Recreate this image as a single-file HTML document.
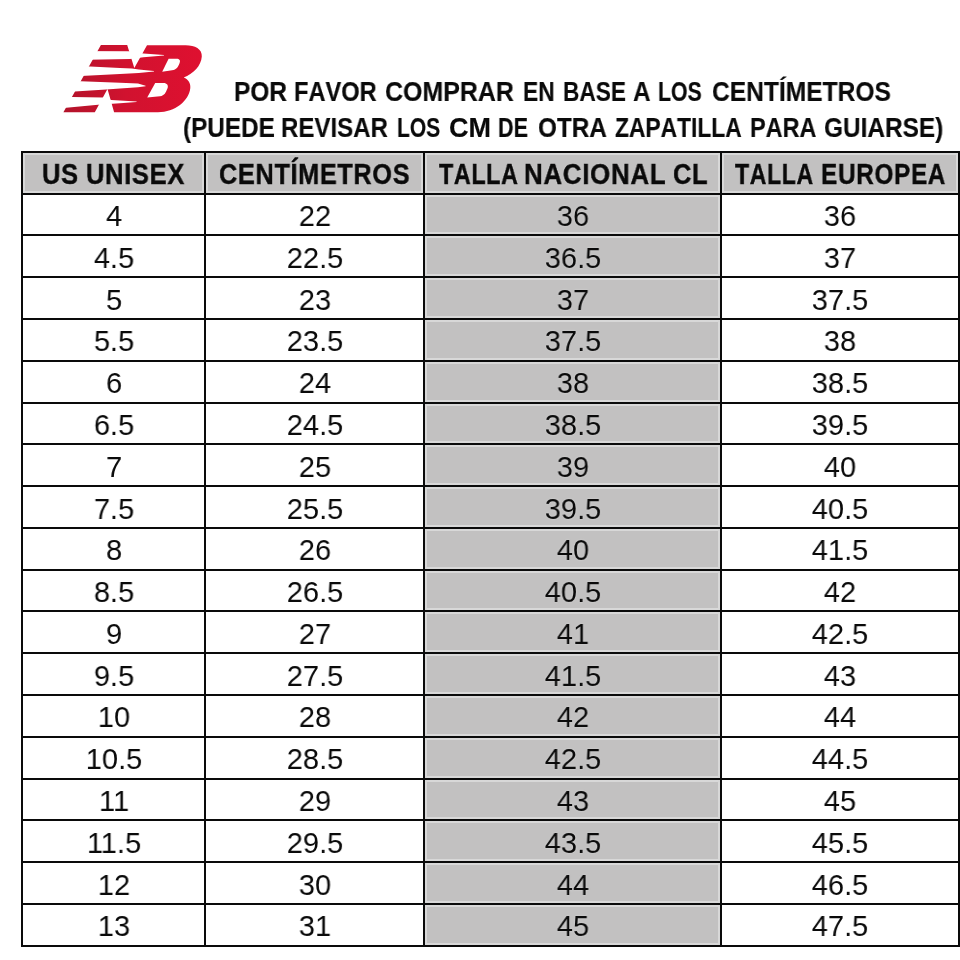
<!DOCTYPE html>
<html><head><meta charset="utf-8"><title>Tabla de tallas</title>
<style>
html,body{margin:0;padding:0;background:#fff;}
body{width:960px;height:960px;position:relative;overflow:hidden;font-family:"Liberation Sans",sans-serif;color:#0a0a0a;}
.l{position:absolute;background:#0a0a0a;}
.g{position:absolute;background:#c2c1c1;}
.u{position:absolute;background:#d8d8d8;}
.t{position:absolute;will-change:transform;white-space:nowrap;line-height:40px;height:40px;transform-origin:50% 50%;text-align:center;}
.b{font-size:30px;}
.bg{text-shadow:0 0 2px #dadada;}
.h{font-size:29px;font-weight:bold;letter-spacing:0.8px;-webkit-text-stroke:0.45px #0a0a0a;font-kerning:none;word-spacing:-1.5px;text-shadow:0 0 2px #dedede;}
.ti{font-size:27px;font-weight:bold;font-kerning:none;-webkit-text-stroke:0.15px #0a0a0a;}
</style></head><body>

<div class="u" style="left:23.00px;top:153.00px;width:181.00px;height:40.00px"></div>
<div class="u" style="left:206.00px;top:153.00px;width:217.00px;height:40.00px"></div>
<div class="u" style="left:425.00px;top:153.00px;width:295.00px;height:40.00px"></div>
<div class="u" style="left:722.00px;top:153.00px;width:236.00px;height:40.00px"></div>
<div class="u" style="left:425.00px;top:195.00px;width:295.00px;height:39.00px"></div>
<div class="u" style="left:425.00px;top:236.00px;width:295.00px;height:40.00px"></div>
<div class="u" style="left:425.00px;top:278.00px;width:295.00px;height:40.00px"></div>
<div class="u" style="left:425.00px;top:320.00px;width:295.00px;height:40.00px"></div>
<div class="u" style="left:425.00px;top:362.00px;width:295.00px;height:40.00px"></div>
<div class="u" style="left:425.00px;top:404.00px;width:295.00px;height:39.00px"></div>
<div class="u" style="left:425.00px;top:445.00px;width:295.00px;height:40.00px"></div>
<div class="u" style="left:425.00px;top:487.00px;width:295.00px;height:40.00px"></div>
<div class="u" style="left:425.00px;top:529.00px;width:295.00px;height:40.00px"></div>
<div class="u" style="left:425.00px;top:571.00px;width:295.00px;height:39.00px"></div>
<div class="u" style="left:425.00px;top:612.00px;width:295.00px;height:40.00px"></div>
<div class="u" style="left:425.00px;top:654.00px;width:295.00px;height:40.00px"></div>
<div class="u" style="left:425.00px;top:696.00px;width:295.00px;height:40.00px"></div>
<div class="u" style="left:425.00px;top:738.00px;width:295.00px;height:40.00px"></div>
<div class="u" style="left:425.00px;top:780.00px;width:295.00px;height:39.00px"></div>
<div class="u" style="left:425.00px;top:821.00px;width:295.00px;height:40.00px"></div>
<div class="u" style="left:425.00px;top:863.00px;width:295.00px;height:40.00px"></div>
<div class="u" style="left:425.00px;top:905.00px;width:295.00px;height:40.00px"></div>
<div class="g" style="left:25.00px;top:155.00px;width:177.00px;height:36.00px"></div>
<div class="g" style="left:208.00px;top:155.00px;width:213.00px;height:36.00px"></div>
<div class="g" style="left:427.00px;top:155.00px;width:291.00px;height:36.00px"></div>
<div class="g" style="left:724.00px;top:155.00px;width:232.00px;height:36.00px"></div>
<div class="g" style="left:427.00px;top:197.00px;width:291.00px;height:35.00px"></div>
<div class="g" style="left:427.00px;top:238.00px;width:291.00px;height:36.00px"></div>
<div class="g" style="left:427.00px;top:280.00px;width:291.00px;height:36.00px"></div>
<div class="g" style="left:427.00px;top:322.00px;width:291.00px;height:36.00px"></div>
<div class="g" style="left:427.00px;top:364.00px;width:291.00px;height:36.00px"></div>
<div class="g" style="left:427.00px;top:406.00px;width:291.00px;height:35.00px"></div>
<div class="g" style="left:427.00px;top:447.00px;width:291.00px;height:36.00px"></div>
<div class="g" style="left:427.00px;top:489.00px;width:291.00px;height:36.00px"></div>
<div class="g" style="left:427.00px;top:531.00px;width:291.00px;height:36.00px"></div>
<div class="g" style="left:427.00px;top:573.00px;width:291.00px;height:35.00px"></div>
<div class="g" style="left:427.00px;top:614.00px;width:291.00px;height:36.00px"></div>
<div class="g" style="left:427.00px;top:656.00px;width:291.00px;height:36.00px"></div>
<div class="g" style="left:427.00px;top:698.00px;width:291.00px;height:36.00px"></div>
<div class="g" style="left:427.00px;top:740.00px;width:291.00px;height:36.00px"></div>
<div class="g" style="left:427.00px;top:782.00px;width:291.00px;height:35.00px"></div>
<div class="g" style="left:427.00px;top:823.00px;width:291.00px;height:36.00px"></div>
<div class="g" style="left:427.00px;top:865.00px;width:291.00px;height:36.00px"></div>
<div class="g" style="left:427.00px;top:907.00px;width:291.00px;height:36.00px"></div>
<div class="l" style="left:21.00px;top:151.00px;width:2.00px;height:796.00px"></div>
<div class="l" style="left:204.00px;top:151.00px;width:2.00px;height:796.00px"></div>
<div class="l" style="left:423.00px;top:151.00px;width:2.00px;height:796.00px"></div>
<div class="l" style="left:720.00px;top:151.00px;width:2.00px;height:796.00px"></div>
<div class="l" style="left:958.00px;top:151.00px;width:2.00px;height:796.00px"></div>
<div class="l" style="left:21.00px;top:151.00px;width:939.00px;height:2.00px"></div>
<div class="l" style="left:21.00px;top:193.00px;width:939.00px;height:2.00px"></div>
<div class="l" style="left:21.00px;top:234.00px;width:939.00px;height:2.00px"></div>
<div class="l" style="left:21.00px;top:276.00px;width:939.00px;height:2.00px"></div>
<div class="l" style="left:21.00px;top:318.00px;width:939.00px;height:2.00px"></div>
<div class="l" style="left:21.00px;top:360.00px;width:939.00px;height:2.00px"></div>
<div class="l" style="left:21.00px;top:402.00px;width:939.00px;height:2.00px"></div>
<div class="l" style="left:21.00px;top:443.00px;width:939.00px;height:2.00px"></div>
<div class="l" style="left:21.00px;top:485.00px;width:939.00px;height:2.00px"></div>
<div class="l" style="left:21.00px;top:527.00px;width:939.00px;height:2.00px"></div>
<div class="l" style="left:21.00px;top:569.00px;width:939.00px;height:2.00px"></div>
<div class="l" style="left:21.00px;top:610.00px;width:939.00px;height:2.00px"></div>
<div class="l" style="left:21.00px;top:652.00px;width:939.00px;height:2.00px"></div>
<div class="l" style="left:21.00px;top:694.00px;width:939.00px;height:2.00px"></div>
<div class="l" style="left:21.00px;top:736.00px;width:939.00px;height:2.00px"></div>
<div class="l" style="left:21.00px;top:778.00px;width:939.00px;height:2.00px"></div>
<div class="l" style="left:21.00px;top:819.00px;width:939.00px;height:2.00px"></div>
<div class="l" style="left:21.00px;top:861.00px;width:939.00px;height:2.00px"></div>
<div class="l" style="left:21.00px;top:903.00px;width:939.00px;height:2.00px"></div>
<div class="l" style="left:21.00px;top:945.00px;width:939.00px;height:2.00px"></div>
<div class="t h" style="left:41.54px;top:154px;text-align:left;transform-origin:0 50%;transform:scaleX(0.8789)">US</div>
<div class="t h" style="left:85.75px;top:154px;text-align:left;transform-origin:0 50%;transform:scaleX(0.8773)">UNISEX</div>
<div class="t h" style="left:219.13px;top:154px;text-align:left;transform-origin:0 50%;transform:scaleX(0.8698)">CENTÍMETROS</div>
<div class="t h" style="left:439.40px;top:154px;text-align:left;transform-origin:0 50%;transform:scaleX(0.8031)">TALLA</div>
<div class="t h" style="left:524.32px;top:154px;text-align:left;transform-origin:0 50%;transform:scaleX(0.8923)">NACIONAL</div>
<div class="t h" style="left:673.32px;top:154px;text-align:left;transform-origin:0 50%;transform:scaleX(0.8763)">CL</div>
<div class="t h" style="left:735.30px;top:154px;text-align:left;transform-origin:0 50%;transform:scaleX(0.7959)">TALLA</div>
<div class="t h" style="left:820.82px;top:154px;text-align:left;transform-origin:0 50%;transform:scaleX(0.839)">EUROPEA</div>
<div class="t b" style="left:113.50px;top:196px;width:400px;margin-left:-200px;transform:scaleX(0.9665)">4</div>
<div class="t b" style="left:314.50px;top:196px;width:400px;margin-left:-200px;transform:scaleX(0.9665)">22</div>
<div class="t b bg" style="left:572.50px;top:196px;width:400px;margin-left:-200px;transform:scaleX(0.9665)">36</div>
<div class="t b" style="left:840.00px;top:196px;width:400px;margin-left:-200px;transform:scaleX(0.9665)">36</div>
<div class="t b" style="left:113.50px;top:238px;width:400px;margin-left:-200px;transform:scaleX(0.9665)">4.5</div>
<div class="t b" style="left:314.50px;top:238px;width:400px;margin-left:-200px;transform:scaleX(0.9665)">22.5</div>
<div class="t b bg" style="left:572.50px;top:238px;width:400px;margin-left:-200px;transform:scaleX(0.9665)">36.5</div>
<div class="t b" style="left:840.00px;top:238px;width:400px;margin-left:-200px;transform:scaleX(0.9665)">37</div>
<div class="t b" style="left:113.50px;top:280px;width:400px;margin-left:-200px;transform:scaleX(0.9665)">5</div>
<div class="t b" style="left:314.50px;top:280px;width:400px;margin-left:-200px;transform:scaleX(0.9665)">23</div>
<div class="t b bg" style="left:572.50px;top:280px;width:400px;margin-left:-200px;transform:scaleX(0.9665)">37</div>
<div class="t b" style="left:840.00px;top:280px;width:400px;margin-left:-200px;transform:scaleX(0.9665)">37.5</div>
<div class="t b" style="left:113.50px;top:321px;width:400px;margin-left:-200px;transform:scaleX(0.9665)">5.5</div>
<div class="t b" style="left:314.50px;top:321px;width:400px;margin-left:-200px;transform:scaleX(0.9665)">23.5</div>
<div class="t b bg" style="left:572.50px;top:321px;width:400px;margin-left:-200px;transform:scaleX(0.9665)">37.5</div>
<div class="t b" style="left:840.00px;top:321px;width:400px;margin-left:-200px;transform:scaleX(0.9665)">38</div>
<div class="t b" style="left:113.50px;top:363px;width:400px;margin-left:-200px;transform:scaleX(0.9665)">6</div>
<div class="t b" style="left:314.50px;top:363px;width:400px;margin-left:-200px;transform:scaleX(0.9665)">24</div>
<div class="t b bg" style="left:572.50px;top:363px;width:400px;margin-left:-200px;transform:scaleX(0.9665)">38</div>
<div class="t b" style="left:840.00px;top:363px;width:400px;margin-left:-200px;transform:scaleX(0.9665)">38.5</div>
<div class="t b" style="left:113.50px;top:405px;width:400px;margin-left:-200px;transform:scaleX(0.9665)">6.5</div>
<div class="t b" style="left:314.50px;top:405px;width:400px;margin-left:-200px;transform:scaleX(0.9665)">24.5</div>
<div class="t b bg" style="left:572.50px;top:405px;width:400px;margin-left:-200px;transform:scaleX(0.9665)">38.5</div>
<div class="t b" style="left:840.00px;top:405px;width:400px;margin-left:-200px;transform:scaleX(0.9665)">39.5</div>
<div class="t b" style="left:113.50px;top:447px;width:400px;margin-left:-200px;transform:scaleX(0.9665)">7</div>
<div class="t b" style="left:314.50px;top:447px;width:400px;margin-left:-200px;transform:scaleX(0.9665)">25</div>
<div class="t b bg" style="left:572.50px;top:447px;width:400px;margin-left:-200px;transform:scaleX(0.9665)">39</div>
<div class="t b" style="left:840.00px;top:447px;width:400px;margin-left:-200px;transform:scaleX(0.9665)">40</div>
<div class="t b" style="left:113.50px;top:489px;width:400px;margin-left:-200px;transform:scaleX(0.9665)">7.5</div>
<div class="t b" style="left:314.50px;top:489px;width:400px;margin-left:-200px;transform:scaleX(0.9665)">25.5</div>
<div class="t b bg" style="left:572.50px;top:489px;width:400px;margin-left:-200px;transform:scaleX(0.9665)">39.5</div>
<div class="t b" style="left:840.00px;top:489px;width:400px;margin-left:-200px;transform:scaleX(0.9665)">40.5</div>
<div class="t b" style="left:113.50px;top:530px;width:400px;margin-left:-200px;transform:scaleX(0.9665)">8</div>
<div class="t b" style="left:314.50px;top:530px;width:400px;margin-left:-200px;transform:scaleX(0.9665)">26</div>
<div class="t b bg" style="left:572.50px;top:530px;width:400px;margin-left:-200px;transform:scaleX(0.9665)">40</div>
<div class="t b" style="left:840.00px;top:530px;width:400px;margin-left:-200px;transform:scaleX(0.9665)">41.5</div>
<div class="t b" style="left:113.50px;top:572px;width:400px;margin-left:-200px;transform:scaleX(0.9665)">8.5</div>
<div class="t b" style="left:314.50px;top:572px;width:400px;margin-left:-200px;transform:scaleX(0.9665)">26.5</div>
<div class="t b bg" style="left:572.50px;top:572px;width:400px;margin-left:-200px;transform:scaleX(0.9665)">40.5</div>
<div class="t b" style="left:840.00px;top:572px;width:400px;margin-left:-200px;transform:scaleX(0.9665)">42</div>
<div class="t b" style="left:113.50px;top:614px;width:400px;margin-left:-200px;transform:scaleX(0.9665)">9</div>
<div class="t b" style="left:314.50px;top:614px;width:400px;margin-left:-200px;transform:scaleX(0.9665)">27</div>
<div class="t b bg" style="left:572.50px;top:614px;width:400px;margin-left:-200px;transform:scaleX(0.9665)">41</div>
<div class="t b" style="left:840.00px;top:614px;width:400px;margin-left:-200px;transform:scaleX(0.9665)">42.5</div>
<div class="t b" style="left:113.50px;top:656px;width:400px;margin-left:-200px;transform:scaleX(0.9665)">9.5</div>
<div class="t b" style="left:314.50px;top:656px;width:400px;margin-left:-200px;transform:scaleX(0.9665)">27.5</div>
<div class="t b bg" style="left:572.50px;top:656px;width:400px;margin-left:-200px;transform:scaleX(0.9665)">41.5</div>
<div class="t b" style="left:840.00px;top:656px;width:400px;margin-left:-200px;transform:scaleX(0.9665)">43</div>
<div class="t b" style="left:113.50px;top:697px;width:400px;margin-left:-200px;transform:scaleX(0.9665)">10</div>
<div class="t b" style="left:314.50px;top:697px;width:400px;margin-left:-200px;transform:scaleX(0.9665)">28</div>
<div class="t b bg" style="left:572.50px;top:697px;width:400px;margin-left:-200px;transform:scaleX(0.9665)">42</div>
<div class="t b" style="left:840.00px;top:697px;width:400px;margin-left:-200px;transform:scaleX(0.9665)">44</div>
<div class="t b" style="left:113.50px;top:739px;width:400px;margin-left:-200px;transform:scaleX(0.9665)">10.5</div>
<div class="t b" style="left:314.50px;top:739px;width:400px;margin-left:-200px;transform:scaleX(0.9665)">28.5</div>
<div class="t b bg" style="left:572.50px;top:739px;width:400px;margin-left:-200px;transform:scaleX(0.9665)">42.5</div>
<div class="t b" style="left:840.00px;top:739px;width:400px;margin-left:-200px;transform:scaleX(0.9665)">44.5</div>
<div class="t b" style="left:113.50px;top:781px;width:400px;margin-left:-200px;transform:scaleX(0.9665)">11</div>
<div class="t b" style="left:314.50px;top:781px;width:400px;margin-left:-200px;transform:scaleX(0.9665)">29</div>
<div class="t b bg" style="left:572.50px;top:781px;width:400px;margin-left:-200px;transform:scaleX(0.9665)">43</div>
<div class="t b" style="left:840.00px;top:781px;width:400px;margin-left:-200px;transform:scaleX(0.9665)">45</div>
<div class="t b" style="left:113.50px;top:823px;width:400px;margin-left:-200px;transform:scaleX(0.9665)">11.5</div>
<div class="t b" style="left:314.50px;top:823px;width:400px;margin-left:-200px;transform:scaleX(0.9665)">29.5</div>
<div class="t b bg" style="left:572.50px;top:823px;width:400px;margin-left:-200px;transform:scaleX(0.9665)">43.5</div>
<div class="t b" style="left:840.00px;top:823px;width:400px;margin-left:-200px;transform:scaleX(0.9665)">45.5</div>
<div class="t b" style="left:113.50px;top:865px;width:400px;margin-left:-200px;transform:scaleX(0.9665)">12</div>
<div class="t b" style="left:314.50px;top:865px;width:400px;margin-left:-200px;transform:scaleX(0.9665)">30</div>
<div class="t b bg" style="left:572.50px;top:865px;width:400px;margin-left:-200px;transform:scaleX(0.9665)">44</div>
<div class="t b" style="left:840.00px;top:865px;width:400px;margin-left:-200px;transform:scaleX(0.9665)">46.5</div>
<div class="t b" style="left:113.50px;top:906px;width:400px;margin-left:-200px;transform:scaleX(0.9665)">13</div>
<div class="t b" style="left:314.50px;top:906px;width:400px;margin-left:-200px;transform:scaleX(0.9665)">31</div>
<div class="t b bg" style="left:572.50px;top:906px;width:400px;margin-left:-200px;transform:scaleX(0.9665)">45</div>
<div class="t b" style="left:840.00px;top:906px;width:400px;margin-left:-200px;transform:scaleX(0.9665)">47.5</div>
<div class="t ti" style="left:234.44px;top:72px;text-align:left;transform-origin:0 50%;transform:scaleX(0.9062)">POR</div>
<div class="t ti" style="left:294.00px;top:72px;text-align:left;transform-origin:0 50%;transform:scaleX(0.875)">FAVOR</div>
<div class="t ti" style="left:385.33px;top:72px;text-align:left;transform-origin:0 50%;transform:scaleX(0.9239)">COMPRAR</div>
<div class="t ti" style="left:523.31px;top:72px;text-align:left;transform-origin:0 50%;transform:scaleX(0.8456)">EN</div>
<div class="t ti" style="left:562.82px;top:72px;text-align:left;transform-origin:0 50%;transform:scaleX(0.8403)">BASE</div>
<div class="t ti" style="left:632.85px;top:72px;text-align:left;transform-origin:0 50%;transform:scaleX(0.9028)">A</div>
<div class="t ti" style="left:658.42px;top:72px;text-align:left;transform-origin:0 50%;transform:scaleX(0.7877)">LOS</div>
<div class="t ti" style="left:711.59px;top:72px;text-align:left;transform-origin:0 50%;transform:scaleX(0.9103)">CENTÍMETROS</div>
<div class="t ti" style="left:182.85px;top:108px;text-align:left;transform-origin:0 50%;transform:scaleX(0.9)">(PUEDE</div>
<div class="t ti" style="left:281.47px;top:108px;text-align:left;transform-origin:0 50%;transform:scaleX(0.891)">REVISAR</div>
<div class="t ti" style="left:397.19px;top:108px;text-align:left;transform-origin:0 50%;transform:scaleX(0.7783)">LOS</div>
<div class="t ti" style="left:449.01px;top:108px;text-align:left;transform-origin:0 50%;transform:scaleX(0.9936)">CM</div>
<div class="t ti" style="left:497.90px;top:108px;text-align:left;transform-origin:0 50%;transform:scaleX(0.8)">DE</div>
<div class="t ti" style="left:537.85px;top:108px;text-align:left;transform-origin:0 50%;transform:scaleX(0.9)">OTRA</div>
<div class="t ti" style="left:615.41px;top:108px;text-align:left;transform-origin:0 50%;transform:scaleX(0.8446)">ZAPATILLA</div>
<div class="t ti" style="left:750.26px;top:108px;text-align:left;transform-origin:0 50%;transform:scaleX(0.8682)">PARA</div>
<div class="t ti" style="left:823.60px;top:108px;text-align:left;transform-origin:0 50%;transform:scaleX(0.9038)">GUIARSE)</div>
<svg style="position:absolute;left:0;top:0" width="260" height="150" viewBox="0 0 260 150">
<defs><linearGradient id="rg" x1="63" y1="0" x2="203" y2="0" gradientUnits="userSpaceOnUse">
<stop offset="0" stop-color="#b2132a"/><stop offset="0.45" stop-color="#d1122f"/><stop offset="1" stop-color="#df1030"/></linearGradient></defs>
<path fill="url(#rg)" d="M100.9 45 L127.2 45 L134.3 68.0 L147.0 45.2 L185.6 45.2 C195 45.2 202.3 49 201.8 56.5 C201.2 66 193 74 183.7 77.6 C188.5 79.5 190.8 83.5 190.3 88 C189 101 175 112.2 158 112.2 L114.1 112.2 L107.5 89.1 L94.8 112.2 L63.4 112.2 Z"/>
<g fill="#fff">
<path d="M60 51.1 L128.6 51.3 L143.4 53.6 L164.0 55.1 L164.0 55.6 L143.4 57.2 L130 59.0 L60 60.2 Z"/>
<path d="M60 66.3 L90.2 66.6 L120 68.0 L131.9 68.4 L138.75 69.6 L154.0 71.0 L154.0 71.4 L138.75 73.1 L120 74.1 L81 76.0 L60 76.4 Z"/>
<path d="M60 81.2 L80.8 81.3 L120 82.7 L138 83.6 L145.6 85.8 L145.6 86.3 L138 87.3 L120 88.4 L106.1 89.4 L74.7 91.4 L60 91.6 Z"/>
<path d="M55 96.8 L72.3 96.9 L102.8 97.5 L111.2 100.0 L120 100.5 L136.6 101.6 L136.6 102.0 L120 103.3 L112.5 103.7 L98.1 104.75 L66.25 107.8 L55 108 Z"/>
<path d="M168.6 58.7 L176.5 58.7 C179.5 58.7 180.6 60.4 179.6 63.0 C178 67 176.5 69.6 172 70.3 L162.2 71.75 Z"/>
<path d="M155.2 83 L163.5 83 C167 83 168.6 85.3 167.5 88.2 C165.8 92.6 164.5 95.6 160 96.2 L147.2 97.5 Z"/>
</g>
</svg>

</body></html>
